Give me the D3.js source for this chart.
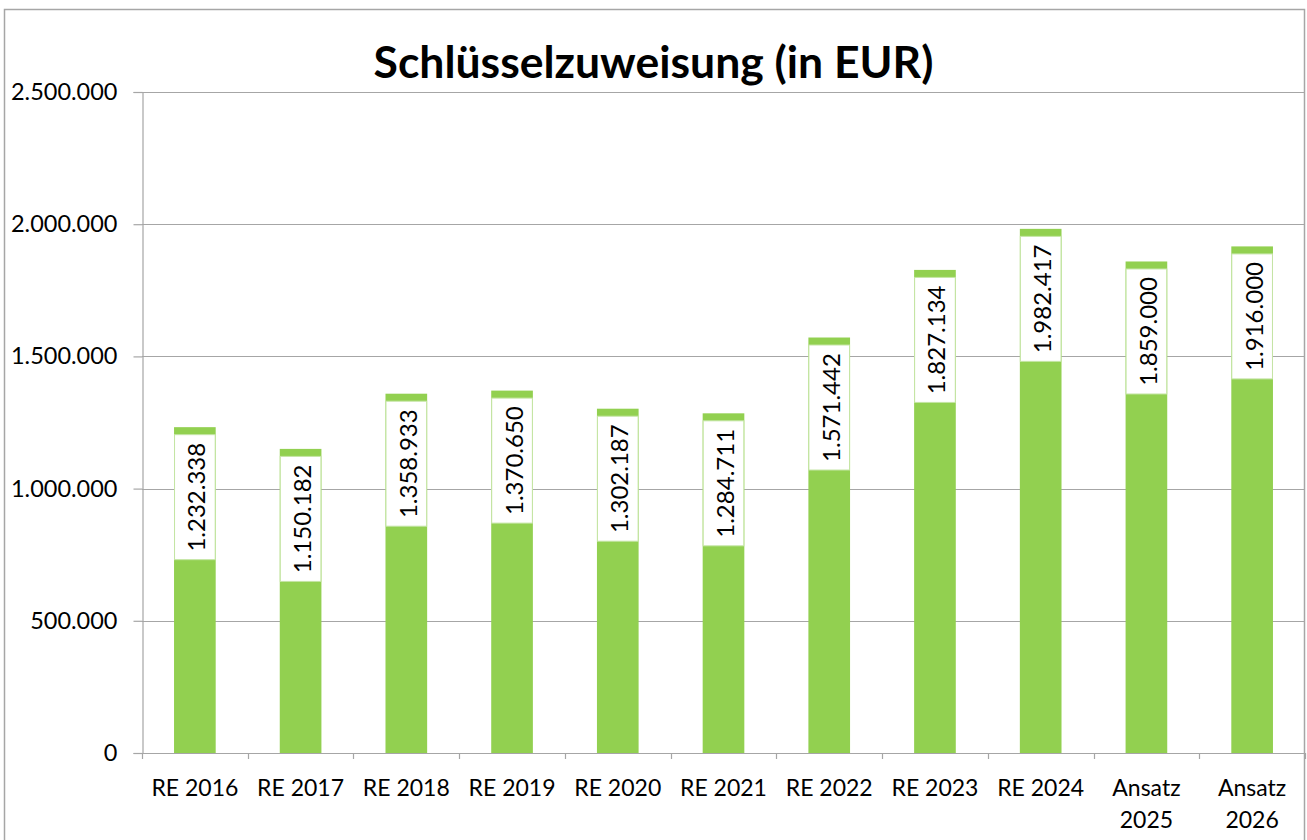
<!DOCTYPE html>
<html>
<head>
<meta charset="utf-8">
<script src="https://cdn.jsdelivr.net/npm/d3@7"></script>
<style>
  html, body { margin: 0; padding: 0; background: #fff; }
  svg { display: block; font-family: Lato, "Open Sans", sans-serif; }
</style>
</head>
<body>
<svg id="chart" width="1307" height="840"></svg>
<script>
// chart data
var title = "Schlüsselzuweisung (in EUR)";
var categories = ["RE 2016", "RE 2017", "RE 2018", "RE 2019", "RE 2020", "RE 2021",
                  "RE 2022", "RE 2023", "RE 2024", "Ansatz 2025", "Ansatz 2026"];
var values = [1232338, 1150182, 1358933, 1370650, 1302187, 1284711,
              1571442, 1827134, 1982417, 1859000, 1916000];
var yTicks = [0, 500000, 1000000, 1500000, 2000000, 2500000];

var width = 1307, height = 840;
var plot = {left: 142, top: 92, right: 1305, bottom: 753};
var barColor = "#92d050";
var gridColor = "#a6a6a6";

var de = d3.formatLocale({decimal: ",", thousands: ".", grouping: [3], currency: ["", " €"]});
var fmt = de.format(",d");

var svg = d3.select("#chart");

// outer chart border
svg.append("rect")
    .attr("x", 4.5).attr("y", 9.5)
    .attr("width", 1300).attr("height", 860)
    .attr("fill", "none")
    .attr("stroke", gridColor)
    .attr("stroke-width", 1.5);

var x = d3.scaleBand()
    .domain(categories)
    .range([plot.left, plot.right])
    .padding(0);

var y = d3.scaleLinear()
    .domain([0, 2500000])
    .range([plot.bottom, plot.top]);

// gridlines
svg.append("g")
    .selectAll("line")
    .data(yTicks)
    .join("line")
    .attr("x1", plot.left).attr("x2", plot.right)
    .attr("y1", function(d){ return Math.round(y(d)) + 0.5; })
    .attr("y2", function(d){ return Math.round(y(d)) + 0.5; })
    .attr("stroke", gridColor)
    .attr("stroke-width", 1.2);

// y axis
var yAxis = svg.append("g")
    .attr("transform", "translate(" + (plot.left + 0.5) + ",0)")
    .call(d3.axisLeft(y).tickValues(yTicks).tickFormat(fmt).tickSize(9).tickPadding(16));
yAxis.select(".domain").attr("stroke", gridColor).attr("stroke-width", 1.2);
yAxis.selectAll(".tick line").attr("stroke", gridColor).attr("stroke-width", 1.2);
yAxis.selectAll(".tick text")
    .attr("font-family", "Lato, sans-serif")
    .attr("font-size", 23.5)
    .attr("fill", "#000");

// x axis: line plus ticks at category boundaries
var xAxis = svg.append("g");
xAxis.append("line")
    .attr("x1", plot.left).attr("x2", plot.right)
    .attr("y1", plot.bottom + 0.5).attr("y2", plot.bottom + 0.5)
    .attr("stroke", gridColor).attr("stroke-width", 1.2);
var bounds = categories.map(function(c){ return x(c); }).concat([plot.right]);
xAxis.selectAll(".xt")
    .data(bounds)
    .join("line")
    .attr("class", "xt")
    .attr("x1", function(d){ return Math.round(d) + 0.5; })
    .attr("x2", function(d){ return Math.round(d) + 0.5; })
    .attr("y1", plot.bottom).attr("y2", plot.bottom + 6)
    .attr("stroke", gridColor).attr("stroke-width", 1.2);

xAxis.selectAll(".xl")
    .data(categories)
    .join("text")
    .attr("class", "xl")
    .attr("text-anchor", "middle")
    .attr("font-size", 23)
    .attr("fill", "#000")
    .each(function(d){
        var lines = d.indexOf("Ansatz") === 0 ? d.split(" ") : [d];
        var t = d3.select(this);
        lines.forEach(function(l, i){
            t.append("tspan")
                .attr("x", x(d) + x.bandwidth() / 2)
                .attr("y", 796 + i * 32)
                .text(l);
        });
    });

// bars
var barW = x.bandwidth() * 0.394;
var bars = svg.append("g");
bars.selectAll("rect")
    .data(values)
    .join("rect")
    .attr("x", function(d, i){ return x(categories[i]) + (x.bandwidth() - barW) / 2; })
    .attr("y", function(d){ return y(d); })
    .attr("width", barW)
    .attr("height", function(d){ return y(0) - y(d); })
    .attr("fill", barColor);

// data labels (white boxes with rotated text, inside end)
var boxH = 125, boxGap = 7.5;
var labels = svg.append("g");
labels.selectAll("rect")
    .data(values)
    .join("rect")
    .attr("x", function(d, i){ return x(categories[i]) + (x.bandwidth() - barW) / 2 + 0.5; })
    .attr("y", function(d){ return y(d) + boxGap; })
    .attr("width", barW - 1)
    .attr("height", boxH)
    .attr("fill", "#fff")
    .attr("stroke", "#c5e5a5")
    .attr("stroke-width", 1);

labels.selectAll("text")
    .data(values)
    .join("text")
    .attr("transform", function(d, i){
        var cx = x(categories[i]) + x.bandwidth() / 2 + 1;
        var cy = y(d) + boxGap + boxH / 2;
        return "translate(" + cx + "," + cy + ") rotate(-90)";
    })
    .attr("text-anchor", "middle")
    .attr("dominant-baseline", "central")
    .attr("font-size", 24)
    .attr("fill", "#000")
    .text(function(d){ return fmt(d); });

// title
svg.append("text")
    .attr("x", width / 2)
    .attr("y", 78)
    .attr("text-anchor", "middle")
    .attr("font-size", 44.5)
    .attr("font-weight", "bold")
    .attr("fill", "#000")
    .text(title);
</script>
</body>
</html>
